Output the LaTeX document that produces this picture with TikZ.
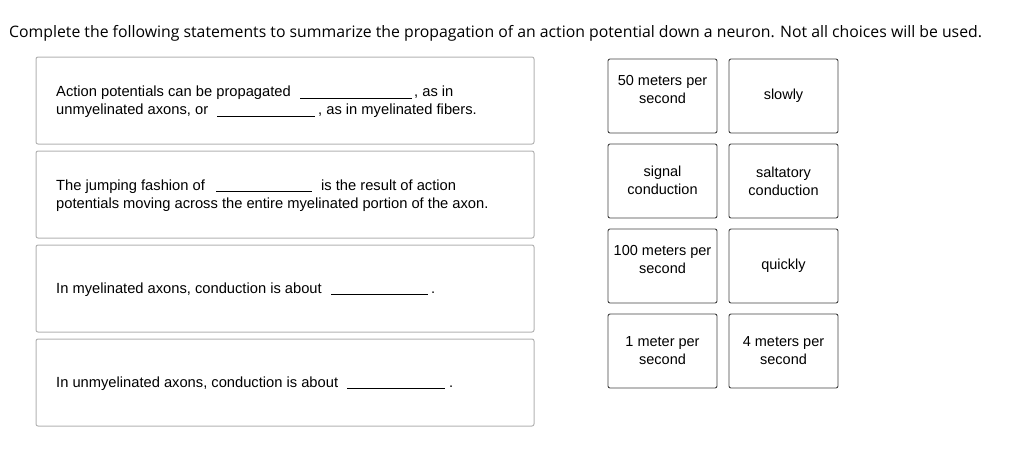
\documentclass[tikz,border=0pt]{standalone}
\usepackage{fontspec}
\setmainfont{Liberation Sans}
\newfontfamily\titlefont{Open Sans}
\begin{document}
\begin{tikzpicture}[x=1pt,y=-1pt,
  qbox/.style={draw=black!30, line width=1pt, rounded corners=2pt},
  cbox/.style={draw=black!75, line width=0.9pt, rounded corners=2pt, minimum width=109pt, minimum height=74pt, align=center, font=\fontsize{14.5}{18}\selectfont, inner sep=0pt},
  txt/.style={anchor=base west, inner sep=0pt, font=\fontsize{14.7}{18}\selectfont},
  blank/.style={line width=0.8pt}]
  \useasboundingbox (0,0) rectangle (1024,448);

  \node[anchor=base west, inner sep=0pt, font=\titlefont\fontsize{15.8}{18}\selectfont] (title) at (9,37)
    {Complete the following statements to summarize the propagation of an action potential down a neuron. Not all choices will be used.};

  % question boxes
  \foreach \y in {57,151,245,339}
    \draw[qbox] (36,\y) rectangle (534,\y+87);

  \node[txt] (q1a) at (56,96) {Action potentials can be propagated};
  \coordinate (b1s) at (300,98); \coordinate (b1e) at (412,98);
  \draw[blank] (b1s) -- (b1e);
  \node[txt] (q1b) at (414,96) {, as in};
  \node[txt] (q1c) at (56,114) {unmyelinated axons, or};
  \coordinate (b2s) at (217,116); \coordinate (b2e) at (315,116);
  \draw[blank] (b2s) -- (b2e);
  \node[txt] (q1d) at (318,114) {, as in myelinated fibers.};

  \node[txt] (q2a) at (56,190) {The jumping fashion of};
  \coordinate (b3s) at (216,191); \coordinate (b3e) at (312,191);
  \draw[blank] (b3s) -- (b3e);
  \node[txt] (q2b) at (321,190) {is the result of action};
  \node[txt] (q2c) at (56,208) {potentials moving across the entire myelinated portion of the axon.};

  \node[txt] (q3) at (56,293) {In myelinated axons, conduction is about};
  \coordinate (b4s) at (331,294); \coordinate (b4e) at (428,294);
  \draw[blank] (b4s) -- (b4e);
  \node[txt] (q3d) at (431,293) {.};

  \node[txt] (q4) at (56,387) {In unmyelinated axons, conduction is about};
  \coordinate (b5s) at (347,388); \coordinate (b5e) at (445,388);
  \draw[blank] (b5s) -- (b5e);
  \node[txt] (q4d) at (449,387) {.};

  % answer choices
  \node[cbox] (c50)  at (662.5,96)  {50 meters per\\second\\[-4pt]};
  \node[cbox] (slow) at (783.5,96)  {slowly};
  \node[cbox] (sig)  at (662.5,181) {\\[-8pt]signal\\conduction};
  \node[cbox] (salt) at (783.5,181) {saltatory\\conduction};
  \node[cbox] (c100) at (662.5,266) {100 meters per\\second\\[-4pt]};
  \node[cbox] (fast) at (783.5,266) {quickly};
  \node[cbox] (c1)   at (662.5,351) {1 meter per\\second};
  \node[cbox] (c4)   at (783.5,351) {4 meters per\\second};
\end{tikzpicture}
\end{document}
